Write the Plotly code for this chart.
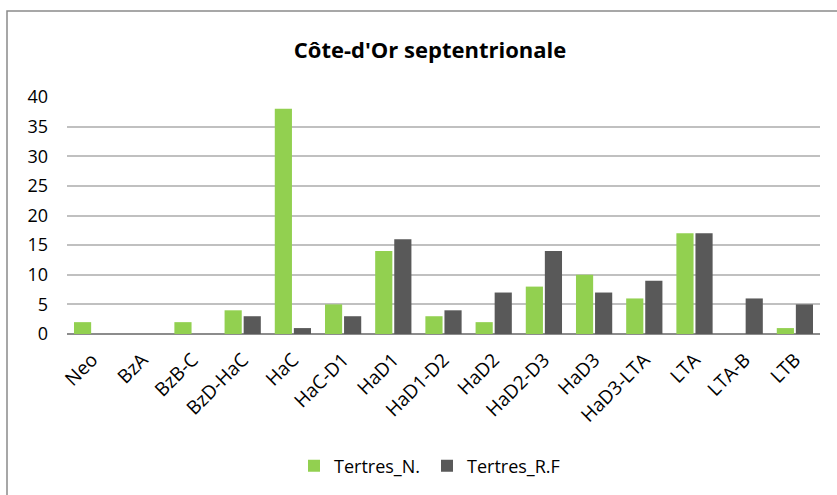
import plotly.graph_objects as go

periods = ["Neo", "BzA", "BzB-C", "BzD-HaC", "HaC", "HaC-D1", "HaD1", "HaD1-D2",
           "HaD2", "HaD2-D3", "HaD3", "HaD3-LTA", "LTA", "LTA-B", "LTB"]
tertres_n = [2, 0, 2, 4, 38, 5, 14, 3, 2, 8, 10, 6, 17, 0, 1]
tertres_rf = [0, 0, 0, 3, 1, 3, 16, 4, 7, 14, 7, 9, 17, 6, 5]
y_ticks = [0, 5, 10, 15, 20, 25, 30, 35, 40]

W, H = 837, 495
L, R, T, B = 67, 17, 97, 161
pw, ph = W - L - R, H - T - B

fig = go.Figure()
fig.add_trace(go.Bar(name="Tertres_N.", x=periods, y=tertres_n,
                     marker=dict(color="#92D050", line=dict(width=0))))
fig.add_trace(go.Bar(name="Tertres_R.F", x=periods, y=tertres_rf,
                     marker=dict(color="#595959", line=dict(width=0))))

font_family = "Open Sans"

fig.update_layout(
    width=W, height=H,
    margin=dict(l=L, r=R, t=T, b=B),
    paper_bgcolor="white", plot_bgcolor="white",
    barmode="group", bargap=0.24, bargroupgap=0.1,
    font=dict(family=font_family, size=18, color="#000000"),
    title=dict(text="<b>Côte-d'Or septentrionale</b>", x=430 / W, xanchor="center",
               y=1 - 50 / H, yanchor="middle",
               font=dict(family=font_family, size=22, color="#000000")),
    xaxis=dict(tickangle=-45, showgrid=False, showline=False, ticks="",
               ticklabelstandoff=10, tickfont=dict(family=font_family, size=19)),
    yaxis=dict(range=[0, 40], tickvals=y_ticks, showgrid=True, gridcolor="#C0C0C0",
               gridwidth=1.5, zeroline=True, zerolinecolor="#8C8C8C", zerolinewidth=2,
               ticks="", ticklabelstandoff=18, tickfont=dict(family=font_family, size=18)),
    legend=dict(orientation="h", x=294 / W, xanchor="left", xref="container",
                y=1 - 466 / H, yanchor="middle", yref="container",
                font=dict(family=font_family, size=18),
                entrywidth=88, entrywidthmode="pixels"),
    shapes=[dict(type="rect", xref="paper", yref="paper",
                 x0=(7 - L) / pw, x1=1.2, y0=-1.0, y1=(H - B - 11) / ph,
                 line=dict(color="#8A8A8A", width=1.5), layer="below")],
)

fig.write_html("out.html")
